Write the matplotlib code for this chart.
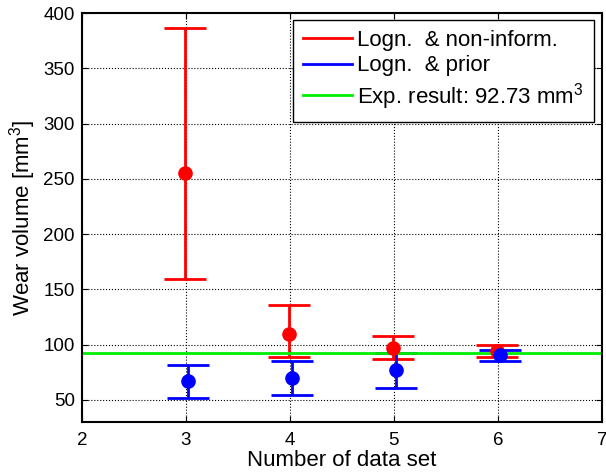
import matplotlib.pyplot as plt
from matplotlib.lines import Line2D
import numpy as np

plt.rcParams['font.family'] = ['Liberation Sans', 'DejaVu Sans']
plt.rcParams['mathtext.fontset'] = 'custom'
plt.rcParams['mathtext.rm'] = 'Liberation Sans'

# data sets
data_set = np.array([3, 4, 5, 6])

# lognormal with non-informative prior
noninf_mean = np.array([255.5, 109.6, 96.6, 94.5])
noninf_low = np.array([159.0, 89.0, 87.2, 89.0])
noninf_high = np.array([386.5, 136.0, 107.8, 99.3])

# lognormal with prior
prior_mean = np.array([67.0, 69.4, 77.0, 90.6])
prior_low = np.array([52.0, 54.3, 61.2, 85.1])
prior_high = np.array([81.8, 85.1, 92.7, 95.0])

exp_result = 92.73

labels = ['Logn.  & non-inform.', 'Logn.  & prior',
          'Exp. result: %.2f mm$^3$' % exp_result]
colors = ['red', 'blue', '#00ee00']

fig = plt.figure(figsize=(6.06, 4.75), dpi=100)
ax = fig.add_axes([0.135, 0.1116, 0.858, 0.861])
ax.set_axisbelow(True)

ax.errorbar(data_set - 0.01, noninf_mean,
            yerr=[noninf_mean - noninf_low, noninf_high - noninf_mean],
            fmt='o', color=colors[0], ms=9.5, lw=2, capsize=15, capthick=2)
ax.errorbar(data_set + 0.02, prior_mean,
            yerr=[prior_mean - prior_low, prior_high - prior_mean],
            fmt='o', color=colors[1], ms=9.5, lw=2, capsize=15, capthick=2)
ax.axhline(exp_result, color=colors[2], lw=2)

ax.set_xlim(2, 7)
ax.set_ylim(30, 400)
ax.set_xticks(np.arange(2, 8))
ax.set_yticks(np.arange(50, 401, 50))
ax.grid(True, color='black', linestyle=':', linewidth=0.8)
ax.tick_params(direction='in', top=True, right=True, labelsize=13.5, length=4, pad=5)
ax.tick_params(axis='x', pad=7)
for s in ax.spines.values():
    s.set_linewidth(1.5)

ax.set_xlabel('Number of data set', fontsize=16, labelpad=1)
ax.set_ylabel('Wear volume [mm$^3$]', fontsize=16, labelpad=4)

handles = [Line2D([], [], color=c, lw=2) for c in colors]
leg = ax.legend(handles, labels, loc='upper right', bbox_to_anchor=(0.985, 0.983),
                fontsize=16, fancybox=False, framealpha=1, edgecolor='black',
                handlelength=2.2, handletextpad=0.25, labelspacing=0.2,
                borderpad=0.45, borderaxespad=0)
leg.get_frame().set_linewidth(1.0)

fig.savefig('out.png', dpi=100)
